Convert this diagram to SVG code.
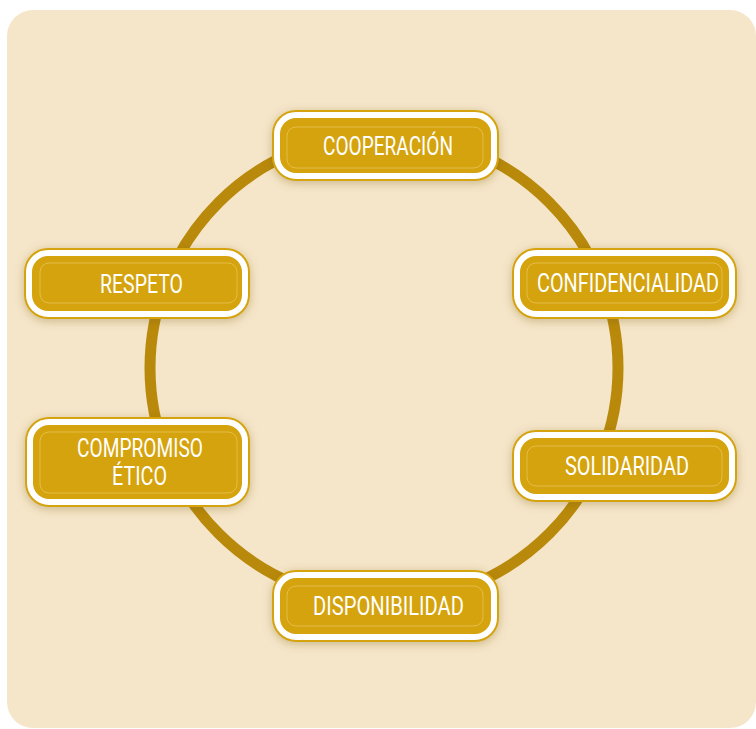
<svg xmlns="http://www.w3.org/2000/svg" width="756" height="729" viewBox="0 0 756 729">
<defs>
<filter id="sh" x="-20%" y="-40%" width="140%" height="180%">
<feDropShadow dx="0" dy="2" stdDeviation="5" flood-color="#7a5a1e" flood-opacity="0.35"/>
</filter>
</defs>
<style>
.bg{fill:#F5E6C9}
.ring{fill:none;stroke:#B8890A;stroke-width:11}
.outer{fill:#D5A311;filter:url(#sh)}
.white{fill:none;stroke:#FFFFFF;stroke-width:6}
.inner{fill:none;stroke:#F0D27A;stroke-width:0.8;opacity:0.7}
.lbl{font-family:"Roboto","Liberation Sans",sans-serif;font-size:25px;font-weight:400;fill:#FFFFFF}
</style>
<rect class="bg" x="7" y="10" width="749" height="718" rx="26"/>
<g id="connectors">
<circle class="ring" cx="384" cy="368" r="234"/>
</g>
<g id="cooperacion">
<rect class="outer" x="272" y="110" width="227" height="71" rx="24"/>
<rect class="white" x="277" y="115" width="217" height="61" rx="19"/>
<rect class="inner" x="287" y="127" width="196" height="41" rx="9"/>
<text class="lbl" x="323" y="155" textLength="130" lengthAdjust="spacingAndGlyphs">COOPERACIÓN</text>
</g>
<g id="respeto">
<rect class="outer" x="24" y="248" width="226" height="71" rx="24"/>
<rect class="white" x="29" y="253" width="216" height="61" rx="19"/>
<rect class="inner" x="40" y="263" width="197" height="40" rx="9"/>
<text class="lbl" x="100" y="293" textLength="83" lengthAdjust="spacingAndGlyphs">RESPETO</text>
</g>
<g id="confidencialidad">
<rect class="outer" x="512" y="248" width="225" height="71" rx="24"/>
<rect class="white" x="517" y="253" width="215" height="61" rx="19"/>
<rect class="inner" x="527" y="263" width="195" height="40" rx="9"/>
<text class="lbl" x="537" y="292" textLength="182" lengthAdjust="spacingAndGlyphs">CONFIDENCIALIDAD</text>
</g>
<g id="compromiso-etico">
<rect class="outer" x="25" y="417" width="225" height="90" rx="24"/>
<rect class="white" x="30" y="422" width="215" height="80" rx="19"/>
<rect class="inner" x="40" y="432" width="197" height="61" rx="9"/>
<text class="lbl" x="77" y="457" textLength="126" lengthAdjust="spacingAndGlyphs">COMPROMISO</text>
<text class="lbl" x="112" y="485" textLength="55" lengthAdjust="spacingAndGlyphs">ÉTICO</text>
</g>
<g id="solidaridad">
<rect class="outer" x="512" y="430" width="225" height="72" rx="24"/>
<rect class="white" x="517" y="435" width="215" height="62" rx="19"/>
<rect class="inner" x="527" y="446" width="195" height="40" rx="9"/>
<text class="lbl" x="565" y="475" textLength="124" lengthAdjust="spacingAndGlyphs">SOLIDARIDAD</text>
</g>
<g id="disponibilidad">
<rect class="outer" x="272" y="570" width="227" height="72" rx="24"/>
<rect class="white" x="277" y="575" width="217" height="62" rx="19"/>
<rect class="inner" x="287" y="586" width="196" height="40" rx="9"/>
<text class="lbl" x="313" y="615" textLength="151" lengthAdjust="spacingAndGlyphs">DISPONIBILIDAD</text>
</g>
</svg>
